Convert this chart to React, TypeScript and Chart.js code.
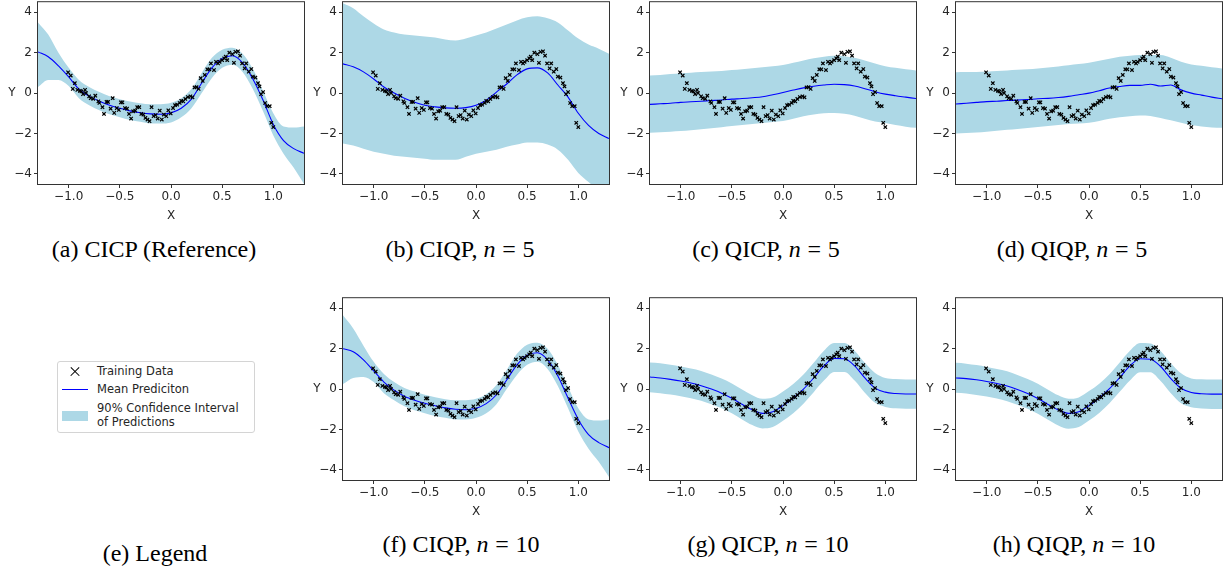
import React, { useEffect, useRef } from "react";
import { Chart, registerables } from "chart.js";

Chart.register(...registerables);

// ---------- data ----------
const GRID_X = [-1.3, -1.2, -1.1, -1.0, -0.9, -0.8, -0.7, -0.6, -0.5, -0.4, -0.3, -0.2, -0.1, 0.0, 0.1, 0.2, 0.3, 0.4, 0.5, 0.6, 0.7, 0.8, 0.9, 1.0, 1.1, 1.2, 1.3];

const TRAIN_X = [-1.006, -0.98, -0.94, -0.96, -0.915, -0.89, -0.876, -0.84, -0.86, -0.83, -0.8, -0.785, -0.76, -0.74, -0.71, -0.7, -0.67, -0.655, -0.63, -0.615, -0.59, -0.57, -0.555, -0.53, -0.51, -0.49, -0.475, -0.45, -0.43, -0.41, -0.39, -0.37, -0.35, -0.33, -0.31, -0.29, -0.27, -0.25, -0.23, -0.21, -0.19, -0.17, -0.15, -0.13, -0.11, -0.09, -0.07, -0.046, -0.026, -0.003, 0.02, 0.04, 0.06, 0.085, 0.1, 0.12, 0.14, 0.165, 0.19, 0.21, 0.23, 0.25, 0.27, 0.29, 0.31, 0.33, 0.355, 0.375, 0.39, 0.42, 0.44, 0.46, 0.475, 0.5, 0.52, 0.535, 0.55, 0.57, 0.6, 0.615, 0.63, 0.655, 0.675, 0.695, 0.72, 0.735, 0.76, 0.785, 0.8, 0.825, 0.85, 0.865, 0.88, 0.9, 0.92, 0.94, 0.965, 0.98, 1.0];
const TRAIN_Y = [1.03, 0.87, 0.49, 0.21, 0.16, 0.11, 0.08, 0.16, -0.05, 0.0, -0.16, -0.25, -0.28, -0.13, -0.41, -0.49, -0.7, -1.03, -0.44, -0.44, -0.77, -0.25, -0.98, -0.74, -0.83, -0.46, -0.46, -0.74, -0.77, -1.03, -1.26, -0.9, -0.87, -0.7, -0.7, -1.03, -1.06, -1.23, -1.31, -1.39, -0.7, -1.14, -1.09, -1.26, -0.87, -1.31, -1.06, -1.14, -0.85, -1.01, -0.74, -0.6, -0.57, -0.49, -0.38, -0.41, -0.29, -0.2, -0.16, -0.21, 0.28, 0.29, 0.21, 0.74, 0.6, 0.9, 1.18, 1.18, 1.47, 1.14, 1.55, 1.47, 1.55, 1.63, 1.72, 1.8, 1.63, 2.0, 1.93, 1.5, 2.04, 2.07, 1.85, 1.47, 1.23, 1.47, 1.06, 1.19, 0.82, 0.77, 0.49, 0.33, -0.05, 0.05, -0.49, -0.65, -0.65, -1.47, -1.68];

const X_TICKS = [-1.0, -0.5, 0.0, 0.5, 1.0];
const Y_TICKS = [-4, -2, 0, 2, 4];

// (a) CICP (Reference)
const MEAN_A = [2.04, 1.8, 1.35, 0.8, 0.2, -0.15, -0.4, -0.6, -0.75, -0.88, -0.97, -1.03, -1.05, -0.98, -0.75, -0.3, 0.5, 1.25, 1.72, 1.85, 1.5, 0.7, -0.35, -1.55, -2.35, -2.75, -2.98];
const UPPER_A = [3.5, 2.9, 2.0, 1.25, 0.65, 0.3, 0.05, -0.15, -0.3, -0.42, -0.5, -0.55, -0.55, -0.48, -0.25, 0.2, 1.0, 1.75, 2.15, 2.25, 1.95, 1.2, 0.1, -1.0, -1.65, -1.7, -1.65];
const LOWER_A = [0.3, 0.65, 0.65, 0.35, -0.25, -0.6, -0.85, -1.05, -1.2, -1.33, -1.42, -1.5, -1.5, -1.45, -1.2, -0.75, 0.0, 0.75, 1.25, 1.4, 1.05, 0.2, -0.9, -2.1, -3.0, -3.7, -4.5];

// (b) CIQP, n = 5
const MEAN_B = [1.45, 1.3, 1.05, 0.7, 0.3, 0.0, -0.25, -0.45, -0.6, -0.68, -0.73, -0.75, -0.72, -0.6, -0.35, 0.05, 0.45, 0.9, 1.2, 1.25, 1.0, 0.4, -0.2, -1.0, -1.6, -2.0, -2.25];
const UPPER_B = [4.45, 4.2, 3.8, 3.45, 3.15, 3.0, 2.9, 2.85, 2.8, 2.75, 2.65, 2.6, 2.7, 2.85, 3.0, 3.2, 3.4, 3.6, 3.75, 3.8, 3.7, 3.5, 3.1, 2.7, 2.4, 2.2, 1.95];
const LOWER_B = [-2.5, -2.6, -2.75, -2.9, -3.0, -3.1, -3.15, -3.2, -3.25, -3.3, -3.3, -3.3, -3.15, -3.0, -2.9, -2.8, -2.65, -2.55, -2.45, -2.45, -2.55, -2.8, -3.3, -3.95, -4.4, -4.8, -5.0];

// (c) QICP, n = 5
const MEAN_C = [-0.56, -0.53, -0.5, -0.46, -0.43, -0.4, -0.37, -0.34, -0.3, -0.27, -0.23, -0.18, -0.08, 0.03, 0.15, 0.26, 0.34, 0.4, 0.44, 0.42, 0.35, 0.22, 0.07, -0.05, -0.13, -0.2, -0.27];
const UPPER_C = [0.87, 0.9, 0.94, 0.98, 1.01, 1.04, 1.07, 1.1, 1.14, 1.18, 1.23, 1.28, 1.33, 1.39, 1.5, 1.62, 1.72, 1.8, 1.85, 1.83, 1.75, 1.62, 1.47, 1.33, 1.25, 1.18, 1.12];
const LOWER_C = [-1.96, -1.94, -1.91, -1.88, -1.84, -1.79, -1.74, -1.69, -1.63, -1.58, -1.53, -1.48, -1.43, -1.38, -1.27, -1.15, -1.06, -1.0, -0.98, -1.02, -1.12, -1.27, -1.4, -1.48, -1.58, -1.66, -1.72];

// (d) QIQP, n = 5
const MEAN_D = [-0.54, -0.5, -0.46, -0.42, -0.4, -0.37, -0.35, -0.32, -0.28, -0.26, -0.22, -0.16, -0.08, 0.0, 0.12, 0.25, 0.33, 0.38, 0.38, 0.44, 0.35, 0.4, 0.16, 0.0, -0.1, -0.2, -0.28];
const UPPER_D = [1.03, 1.04, 1.05, 1.06, 1.09, 1.12, 1.15, 1.18, 1.22, 1.27, 1.32, 1.38, 1.44, 1.5, 1.6, 1.7, 1.8, 1.85, 1.88, 1.88, 1.88, 1.75, 1.55, 1.42, 1.35, 1.28, 1.22];
const LOWER_D = [-2.0, -1.98, -1.95, -1.91, -1.87, -1.82, -1.78, -1.73, -1.68, -1.63, -1.58, -1.53, -1.5, -1.47, -1.38, -1.27, -1.19, -1.14, -1.11, -1.13, -1.23, -1.35, -1.47, -1.58, -1.65, -1.7, -1.72];

// (f) CIQP, n = 10
const MEAN_F = [2.0, 1.85, 1.45, 0.9, 0.35, -0.05, -0.35, -0.55, -0.7, -0.82, -0.93, -1.0, -1.02, -0.95, -0.72, -0.28, 0.45, 1.2, 1.68, 1.8, 1.45, 0.65, -0.45, -1.5, -2.25, -2.65, -2.9];
const UPPER_F = [3.65, 3.0, 2.15, 1.35, 0.75, 0.35, 0.05, -0.12, -0.28, -0.4, -0.5, -0.55, -0.55, -0.48, -0.25, 0.2, 0.95, 1.75, 2.2, 2.3, 2.0, 1.2, 0.1, -0.95, -1.5, -1.55, -1.5];
const LOWER_F = [0.25, 0.55, 0.6, 0.35, -0.2, -0.55, -0.85, -1.05, -1.2, -1.33, -1.42, -1.5, -1.5, -1.42, -1.2, -0.75, 0.0, 0.7, 1.2, 1.35, 1.0, 0.15, -0.95, -2.1, -2.95, -3.6, -4.35];

// (g) QICP, n = 10
const MEAN_G = [0.6, 0.55, 0.48, 0.4, 0.3, 0.17, 0.0, -0.2, -0.45, -0.75, -1.02, -1.2, -1.12, -0.82, -0.45, 0.0, 0.55, 1.15, 1.52, 1.5, 1.15, 0.55, 0.05, -0.15, -0.22, -0.24, -0.24];
const UPPER_G = [1.32, 1.28, 1.2, 1.12, 1.02, 0.9, 0.72, 0.52, 0.28, -0.02, -0.3, -0.48, -0.42, -0.12, 0.25, 0.72, 1.3, 1.9, 2.28, 2.28, 1.9, 1.3, 0.8, 0.55, 0.5, 0.48, 0.48];
const LOWER_G = [-0.15, -0.2, -0.27, -0.35, -0.45, -0.58, -0.75, -0.95, -1.2, -1.5, -1.78, -1.95, -1.88, -1.57, -1.2, -0.72, -0.15, 0.42, 0.85, 0.85, 0.42, -0.18, -0.68, -0.88, -0.95, -0.97, -0.97];

// (h) QIQP, n = 10
const MEAN_H = [0.55, 0.52, 0.46, 0.38, 0.28, 0.15, -0.02, -0.22, -0.47, -0.76, -1.03, -1.2, -1.12, -0.82, -0.44, 0.02, 0.57, 1.15, 1.5, 1.48, 1.12, 0.52, 0.04, -0.17, -0.23, -0.25, -0.25];
const UPPER_H = [1.3, 1.26, 1.19, 1.1, 1.0, 0.88, 0.7, 0.5, 0.26, -0.03, -0.31, -0.48, -0.41, -0.1, 0.27, 0.74, 1.32, 1.9, 2.28, 2.26, 1.88, 1.28, 0.78, 0.53, 0.49, 0.47, 0.47];
const LOWER_H = [-0.18, -0.22, -0.29, -0.37, -0.47, -0.6, -0.77, -0.97, -1.22, -1.52, -1.8, -1.96, -1.88, -1.56, -1.18, -0.7, -0.13, 0.43, 0.84, 0.83, 0.4, -0.2, -0.7, -0.9, -0.96, -0.98, -0.98];

// ---------- styling / layout ----------
const FONT = "'DejaVu Sans', sans-serif";
const SERIF = "'Liberation Serif', 'Times New Roman', serif";
const INK = "#262626";
const FRAME = "#333333";
const BAND = "#add8e6";
const LINE = "#0000ff";

const PLOT_W = 266;
const PLOT_H = 183;
const PAD_L = 8;
const Y_AXIS_W = 30;
const PAD_T = 4;
const PAD_R = 6;
const X_AXIS_H = 40;
const CANVAS_W = PAD_L + Y_AXIS_W + PLOT_W + PAD_R;
const CANVAS_H = PAD_T + PLOT_H + X_AXIS_H;

type PanelDef = { id: string; left: number; top: number; mean: number[]; upper: number[]; lower: number[] };

const PANELS: PanelDef[] = [
  { id: "a", left: 38, top: 1, mean: MEAN_A, upper: UPPER_A, lower: LOWER_A },
  { id: "b", left: 343, top: 1, mean: MEAN_B, upper: UPPER_B, lower: LOWER_B },
  { id: "c", left: 650, top: 1, mean: MEAN_C, upper: UPPER_C, lower: LOWER_C },
  { id: "d", left: 956, top: 1, mean: MEAN_D, upper: UPPER_D, lower: LOWER_D },
  { id: "f", left: 343, top: 297, mean: MEAN_F, upper: UPPER_F, lower: LOWER_F },
  { id: "g", left: 650, top: 297, mean: MEAN_G, upper: UPPER_G, lower: LOWER_G },
  { id: "h", left: 956, top: 297, mean: MEAN_H, upper: UPPER_H, lower: LOWER_H },
];

type CaptionDef = { label: string; method: string; n?: string; cx: number; cy: number };
const CAPTIONS: CaptionDef[] = [
  { label: "(a)", method: "CICP (Reference)", cx: 154, cy: 251 },
  { label: "(b)", method: "CIQP,", n: "5", cx: 460, cy: 251 },
  { label: "(c)", method: "QICP,", n: "5", cx: 766, cy: 251 },
  { label: "(d)", method: "QIQP,", n: "5", cx: 1072, cy: 251 },
  { label: "(e)", method: "Legend", cx: 155, cy: 555 },
  { label: "(f)", method: "CIQP,", n: "10", cx: 461, cy: 546 },
  { label: "(g)", method: "QICP,", n: "10", cx: 768, cy: 546 },
  { label: "(h)", method: "QIQP,", n: "10", cx: 1074, cy: 546 },
];

function fmt(v: number, digits: number) {
  const s = Math.abs(v).toFixed(digits);
  return v < -1e-9 ? "\u2212" + s : s;
}

const framePlugin = {
  id: "frameAndY",
  afterDraw(chart: any) {
    const { ctx, chartArea: a } = chart;
    ctx.save();
    ctx.strokeStyle = FRAME;
    ctx.lineWidth = 1;
    ctx.strokeRect(a.left - 0.5, a.top - 0.5, a.right - a.left + 1, a.bottom - a.top + 1);
    ctx.fillStyle = INK;
    ctx.font = `12px ${FONT}`;
    ctx.textAlign = "center";
    ctx.textBaseline = "middle";
    ctx.fillText("Y", a.left - 26, (a.top + a.bottom) / 2);
    ctx.restore();
  },
};

function buildConfig(p: PanelDef): any {
  const pts = (ys: number[]) => GRID_X.map((x, i) => ({ x, y: ys[i] }));
  return {
    type: "line",
    data: {
      datasets: [
        {
          label: "Training Data",
          data: TRAIN_X.map((x, i) => ({ x, y: TRAIN_Y[i] })),
          showLine: false,
          pointStyle: "crossRot",
          pointRadius: 2.4,
          pointBorderWidth: 1.2,
          pointBorderColor: "#000000",
          pointBackgroundColor: "#000000",
          borderColor: "#000000",
        },
        {
          label: "Mean Prediciton",
          data: pts(p.mean),
          borderColor: LINE,
          borderWidth: 1.1,
          pointRadius: 0,
          fill: false,
          cubicInterpolationMode: "monotone",
        },
        {
          label: "upper",
          data: pts(p.upper),
          borderColor: "rgba(0,0,0,0)",
          borderWidth: 0,
          pointRadius: 0,
          backgroundColor: BAND,
          fill: "+1",
          cubicInterpolationMode: "monotone",
        },
        {
          label: "lower",
          data: pts(p.lower),
          borderColor: "rgba(0,0,0,0)",
          borderWidth: 0,
          pointRadius: 0,
          fill: false,
          cubicInterpolationMode: "monotone",
        },
      ],
    },
    options: {
      animation: false,
      responsive: false,
      devicePixelRatio: 1,
      events: [],
      layout: { padding: { left: PAD_L, right: PAD_R, top: PAD_T, bottom: 0 } },
      plugins: { legend: { display: false }, tooltip: { enabled: false } },
      scales: {
        x: {
          type: "linear",
          min: -1.3,
          max: 1.3,
          afterBuildTicks: (s: any) => {
            s.ticks = X_TICKS.map((v) => ({ value: v }));
          },
          afterFit: (s: any) => {
            s.height = X_AXIS_H;
            s.paddingLeft = 0;
            s.paddingRight = 0;
          },
          border: { display: false },
          grid: { display: true, drawOnChartArea: false, drawTicks: true, tickLength: 4, tickColor: FRAME, lineWidth: 1 },
          ticks: {
            color: INK,
            padding: 2,
            maxRotation: 0,
            autoSkip: false,
            font: { family: FONT, size: 12 },
            callback: (v: any) => fmt(Number(v), 1),
          },
          title: { display: true, text: "X", color: INK, font: { family: FONT, size: 12 }, padding: { top: 0, bottom: 1 } },
        },
        y: {
          type: "linear",
          min: -4.5,
          max: 4.5,
          afterBuildTicks: (s: any) => {
            s.ticks = Y_TICKS.map((v) => ({ value: v }));
          },
          afterFit: (s: any) => {
            s.width = Y_AXIS_W;
            s.paddingTop = 0;
            s.paddingBottom = 0;
          },
          border: { display: false },
          grid: { display: true, drawOnChartArea: false, drawTicks: true, tickLength: 4, tickColor: FRAME, lineWidth: 1 },
          ticks: {
            color: INK,
            padding: 2,
            autoSkip: false,
            font: { family: FONT, size: 12 },
            callback: (v: any) => fmt(Number(v), 0),
          },
        },
      },
    },
    plugins: [framePlugin],
  };
}

function Panel({ p }: { p: PanelDef }) {
  const ref = useRef<HTMLCanvasElement | null>(null);
  useEffect(() => {
    if (!ref.current) return;
    const chart = new Chart(ref.current, buildConfig(p));
    return () => chart.destroy();
  }, [p]);
  return (
    <canvas
      ref={ref}
      width={CANVAS_W}
      height={CANVAS_H}
      style={{
        position: "absolute",
        left: p.left - PAD_L - Y_AXIS_W,
        top: p.top - PAD_T,
        width: CANVAS_W,
        height: CANVAS_H,
      }}
    />
  );
}

function Caption({ c }: { c: CaptionDef }) {
  return (
    <div
      style={{
        position: "absolute",
        left: c.cx - 160,
        top: c.cy - 16,
        width: 320,
        textAlign: "center",
        fontFamily: SERIF,
        fontSize: 24,
        lineHeight: "28px",
        color: "#000",
        whiteSpace: "nowrap",
      }}
    >
      {c.label} {c.method}
      {c.n !== undefined ? (
        <>
          {" "}
          <span style={{ fontStyle: "italic" }}>n</span>
          <span style={{ margin: "0 0.28em" }}>=</span>
          {c.n}
        </>
      ) : null}
    </div>
  );
}

function Legend() {
  const text: React.CSSProperties = {
    position: "absolute",
    left: 39,
    fontFamily: FONT,
    fontSize: 11.5,
    lineHeight: "14px",
    color: INK,
    whiteSpace: "nowrap",
  };
  const bar: React.CSSProperties = {
    position: "absolute",
    left: 7,
    top: 4.5,
    width: 12,
    height: 1.2,
    background: "#000",
  };
  return (
    <div
      style={{
        position: "absolute",
        left: 57,
        top: 361,
        width: 198,
        height: 72,
        boxSizing: "border-box",
        border: "1px solid #d4d4d4",
        borderRadius: 3,
        background: "#fff",
      }}
    >
      <div style={{ position: "absolute", left: 4, top: 4, width: 26, height: 10 }}>
        <div style={{ ...bar, transform: "rotate(45deg)" }} />
        <div style={{ ...bar, transform: "rotate(-45deg)" }} />
      </div>
      <div style={{ ...text, top: 2 }}>Training Data</div>
      <div style={{ position: "absolute", left: 4, top: 27, width: 26, height: 1, background: LINE }} />
      <div style={{ ...text, top: 20 }}>Mean Prediciton</div>
      <div style={{ position: "absolute", left: 4, top: 49, width: 26, height: 10, background: BAND }} />
      <div style={{ ...text, top: 39 }}>
        90% Confidence Interval
        <br />
        of Predictions
      </div>
    </div>
  );
}

export default function App() {
  return (
    <div
      style={{
        position: "absolute",
        left: 0,
        top: 0,
        width: 1228,
        height: 571,
        overflow: "hidden",
        background: "#ffffff",
      }}
    >
      {PANELS.map((p) => (
        <Panel key={p.id} p={p} />
      ))}
      <Legend />
      {CAPTIONS.map((c) => (
        <Caption key={c.label} c={c} />
      ))}
    </div>
  );
}
